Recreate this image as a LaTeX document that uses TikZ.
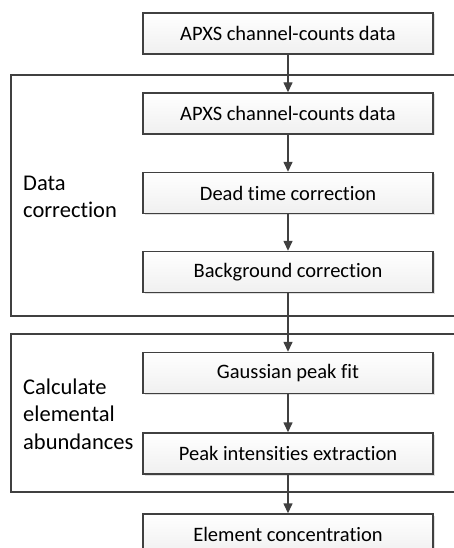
\documentclass[tikz,border=0pt]{standalone}
\usepackage{fontspec}
\setmainfont{Carlito}[Ligatures=NoCommon]
\usepackage{tikz}
\usetikzlibrary{arrows.meta,shadows}

\definecolor{linegray}{HTML}{404040}
\tikzset{
  stepbox/.style = {draw=linegray, line width=1.4pt, minimum width=290pt, minimum height=41pt,
    top color=white, bottom color=black!6, inner sep=0pt,
    drop shadow={shadow xshift=1.5pt, shadow yshift=-1.5pt, opacity=0.25}},
  grouprect/.style = {draw=linegray, line width=1.4pt},
  grouplabel/.style = {align=left, anchor=west, inner sep=0pt, font=\fontsize{22.5}{27.5}\selectfont},
  flow/.style = {draw=linegray, line width=1.4pt, -{Triangle[width=9pt,length=10pt]}},
}

\begin{document}
\begin{tikzpicture}[x=1pt, y=1pt, font=\fontsize{20.5}{28}\selectfont]
	\useasboundingbox (0,0) rectangle (454,-548);
	% the two groups
	\draw [grouprect] (460,-75) -- (11,-75) -- (11,-316) -- (460,-316);
	\draw [grouprect] (460,-334) -- (11,-334) -- (11,-492) -- (460,-492);
	\node [grouplabel] (lblcorr) at (23,-197) {Data\\correction};
	\node [grouplabel] (lblcalc) at (23,-414) {Calculate\\elemental\\abundances};
	% processing steps
	\node [stepbox] (raw)   at (288,-33.5) {APXS channel-counts data};
	\node [stepbox] (data)  at (288,-113.5) {APXS channel-counts data};
	\node [stepbox] (dead)  at (288,-193) {Dead time correction};
	\node [stepbox] (bg)    at (288,-272) {Background correction};
	\node [stepbox] (gauss) at (288,-373) {Gaussian peak fit};
	\node [stepbox] (peak)  at (288,-453.5) {Peak intensities extraction};
	\node [stepbox] (conc)  at (288,-534.5) {Element concentration};
	% arrows
	\draw [flow] (raw) -- (data);
	\draw [flow] (data) -- (dead);
	\draw [flow] (dead) -- (bg);
	\draw [flow] (bg) -- (gauss);
	\draw [flow] (gauss) -- (peak);
	\draw [flow] (peak) -- (conc);
\end{tikzpicture}
\end{document}
